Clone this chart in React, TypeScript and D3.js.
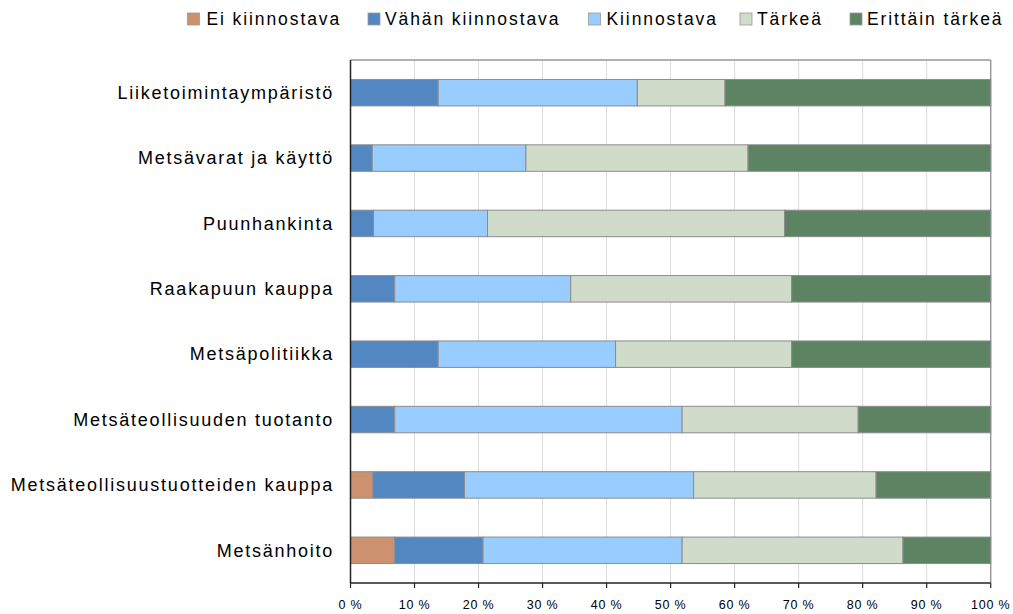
import React from "react";
import * as d3 from "d3";

const categories = [
  "Liiketoimintaympäristö",
  "Metsävarat ja käyttö",
  "Puunhankinta",
  "Raakapuun kauppa",
  "Metsäpolitiikka",
  "Metsäteollisuuden tuotanto",
  "Metsäteollisuustuotteiden kauppa",
  "Metsänhoito",
];

const seriesNames = ["Ei kiinnostava", "Vähän kiinnostava", "Kiinnostava", "Tärkeä", "Erittäin tärkeä"];
const seriesColors = ["#CC9270", "#5387C2", "#99CCFF", "#D0DBC9", "#5C8463"];

const eiKiinnostava = [0, 0, 0, 0, 0, 0, 3.5, 6.9];
const vahanKiinnostava = [13.7, 3.4, 3.6, 6.9, 13.7, 6.9, 14.3, 13.8];
const kiinnostava = [31.1, 24.0, 17.8, 27.5, 27.7, 44.9, 35.8, 31.1];
const tarkea = [13.7, 34.7, 46.4, 34.5, 27.5, 27.5, 28.5, 34.5];
const erittainTarkea = [41.5, 37.9, 32.2, 31.1, 31.1, 20.7, 17.9, 13.7];

const tickValues = [0, 10, 20, 30, 40, 50, 60, 70, 80, 90, 100];

const W = 1013;
const H = 614;
const left = 350.5;
const right = 990.7;
const top = 60;
const bottom = 583;

export default function App() {
  const seriesData = [eiKiinnostava, vahanKiinnostava, kiinnostava, tarkea, erittainTarkea];
  const rows = categories.map((c, i) => {
    const r: any = { cat: c };
    seriesNames.forEach((s, j) => (r[s] = seriesData[j][i]));
    return r;
  });
  const stack = d3.stack<any>().keys(seriesNames).offset(d3.stackOffsetExpand);
  const stacked = stack(rows);

  const x = d3.scaleLinear().domain([0, 1]).range([left, right]);
  const y = d3.scaleBand<string>().domain(categories).range([top, bottom]).paddingInner(0.595).paddingOuter(0.2975);

  const font = "'Liberation Sans', Arial, sans-serif";

  const legendPositions = [
    [187.5, 206.5],
    [368, 385],
    [588.5, 606.5],
    [740, 757],
    [850, 867],
  ];

  return (
    <svg width={W} height={H} style={{ position: "absolute", left: 0, top: 0, fontFamily: font }}>
      <rect x={0} y={0} width={W} height={H} fill="#fff" />
      {tickValues.slice(1, -1).map((t) => (
        <line key={t} x1={x(t / 100)} x2={x(t / 100)} y1={top} y2={bottom} stroke="#dcdcdc" strokeWidth={1} />
      ))}
      <line x1={left} x2={right} y1={top} y2={top} stroke="#999" strokeWidth={1.5} />
      <line x1={right} x2={right} y1={top} y2={bottom} stroke="#999" strokeWidth={1.5} />
      {stacked.map((layer, j) => (
        <g key={j}>
          {layer.map((d, i) => {
            const w = x(d[1]) - x(d[0]);
            if (w <= 0.01) return null;
            return (
              <rect
                key={i}
                x={x(d[0])}
                y={y(categories[i])}
                width={w}
                height={y.bandwidth()}
                fill={seriesColors[j]}
                stroke="#8c8c8c"
                strokeWidth={1}
              />
            );
          })}
        </g>
      ))}
      <line x1={left} x2={left} y1={top} y2={bottom} stroke="#222" strokeWidth={1.5} />
      <line x1={left} x2={right} y1={bottom} y2={bottom} stroke="#222" strokeWidth={1.5} />
      {tickValues.map((t) => (
        <g key={t}>
          <line x1={x(t / 100)} x2={x(t / 100)} y1={bottom} y2={bottom + 5} stroke="#222" strokeWidth={1.2} />
          <text x={x(t / 100)} y={609} textAnchor="middle" fontSize={12.5} letterSpacing={0.8} fill="#000">
            {t + " %"}
          </text>
        </g>
      ))}
      {categories.map((c) => (
        <text
          key={c}
          x={334}
          y={(y(c) as number) + y.bandwidth() / 2}
          dy="0.35em"
          textAnchor="end"
          fontSize={18}
          letterSpacing={1.75}
          fill="#000"
        >
          {c}
        </text>
      ))}
      <g>
        {seriesNames.map((s, j) => {
          const [sx, tx] = legendPositions[j];
          return (
            <g key={s}>
              <rect x={sx} y={13} width={12} height={12} fill={seriesColors[j]} stroke="#999" strokeWidth={0.8} />
              <text x={tx} y={25} fontSize={17.5} letterSpacing={1.9} fill="#000">
                {s}
              </text>
            </g>
          );
        })}
      </g>
    </svg>
  );
}
